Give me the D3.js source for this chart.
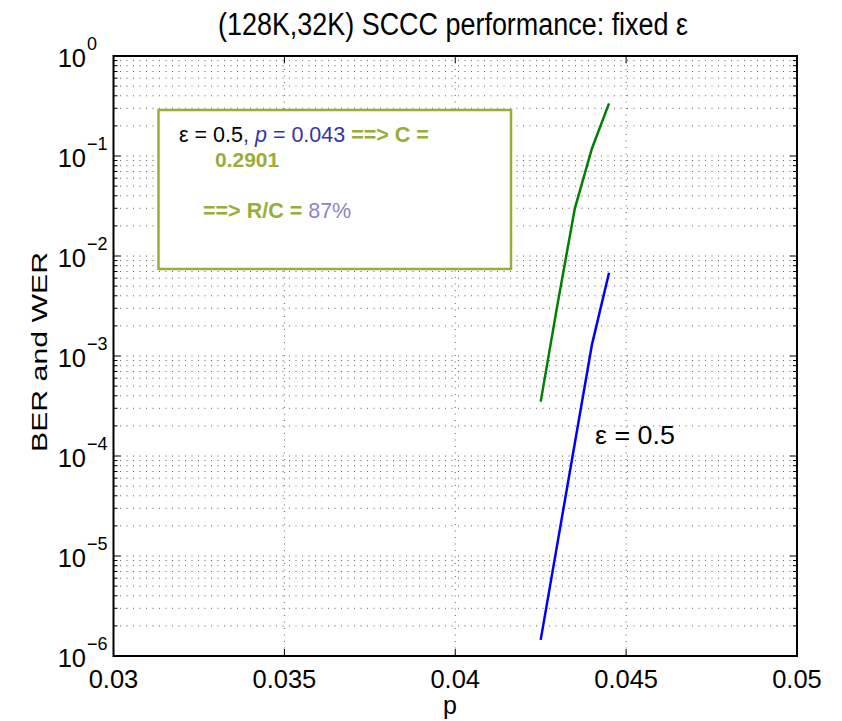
<!DOCTYPE html>
<html><head><meta charset="utf-8">
<script src="https://cdn.jsdelivr.net/npm/d3@7"></script>
<style>body{margin:0;background:#fff}svg{display:block;font-family:"Liberation Sans",Arial,sans-serif}</style>
</head><body>
<svg id="c" width="842" height="721"></svg>
<script>
const pValues = [0.0425, 0.043, 0.0435, 0.044, 0.0445];
const werValues = [3.5e-4, 3.4e-3, 0.030, 0.119, 0.336];
const berValues = [1.45e-6, 1.4e-5, 1.35e-4, 1.3e-3, 6.8e-3];
const xTicks = [0.03, 0.035, 0.04, 0.045, 0.05];
const xTickLabels = ["0.03", "0.035", "0.04", "0.045", "0.05"];
const yExponents = [0, -1, -2, -3, -4, -5, -6];

const svg = d3.select("#c");
const L = 113.5, R = 797, T = 56, B = 656;
const x = d3.scaleLinear().domain([0.03, 0.05]).range([L, R]);
const y = d3.scaleLog().domain([1e-6, 1]).range([B, T]);

// grid
const grid = svg.append("g").attr("stroke", "#333").attr("stroke-width", 0.8).attr("stroke-dasharray", "1,5.5");
const minor = [];
for (let e = -6; e < 0; e++) for (let m = 2; m <= 9; m++) minor.push(m * Math.pow(10, e));
const major = yExponents.map(e => Math.pow(10, e));
grid.selectAll(".hy").data(minor.concat(major.slice(1, -1))).join("line")
  .attr("x1", L).attr("x2", R).attr("y1", d => y(d)).attr("y2", d => y(d));
grid.selectAll(".vx").data(xTicks.slice(1, -1)).join("line")
  .attr("y1", T).attr("y2", B).attr("x1", d => x(d)).attr("x2", d => x(d));

// ticks (inside, all sides)
const tk = svg.append("g").attr("stroke", "#000").attr("stroke-width", 1);
xTicks.forEach(v => {
  tk.append("line").attr("x1", x(v)).attr("x2", x(v)).attr("y1", B).attr("y2", B - 7);
  tk.append("line").attr("x1", x(v)).attr("x2", x(v)).attr("y1", T).attr("y2", T + 7);
});
major.forEach(v => {
  tk.append("line").attr("x1", L).attr("x2", L + 7).attr("y1", y(v)).attr("y2", y(v));
  tk.append("line").attr("x1", R).attr("x2", R - 7).attr("y1", y(v)).attr("y2", y(v));
});
minor.forEach(v => {
  tk.append("line").attr("x1", L).attr("x2", L + 4).attr("y1", y(v)).attr("y2", y(v));
  tk.append("line").attr("x1", R).attr("x2", R - 4).attr("y1", y(v)).attr("y2", y(v));
});

// frame
svg.append("rect").attr("x", L).attr("y", T).attr("width", R - L).attr("height", B - T)
  .attr("fill", "none").attr("stroke", "#000").attr("stroke-width", 2);

// x tick labels
svg.selectAll(".xl").data(xTicks).join("text")
  .attr("x", d => x(d)).attr("y", B + 32).attr("text-anchor", "middle")
  .attr("font-size", 25.5).text((d, i) => xTickLabels[i]);

// y tick labels
yExponents.forEach(e => {
  svg.append("text").attr("x", 86).attr("y", y(Math.pow(10, e)) + 11)
    .attr("text-anchor", "end").attr("font-size", 25.5).text("10");
  svg.append("text").attr("x", 87).attr("y", y(Math.pow(10, e)) - 6)
    .attr("font-size", 18).text(e === 0 ? "0" : "\u2212" + (-e));
});

// axis labels & title
svg.append("text").attr("x", 450).attr("y", 714).attr("text-anchor", "middle").attr("font-size", 25).text("p");
svg.append("text").attr("transform", "translate(47,352) rotate(-90)").attr("text-anchor", "middle")
  .attr("font-size", 21.5).attr("textLength", 200).attr("lengthAdjust", "spacingAndGlyphs").text("BER and WER");
svg.append("text").attr("x", 453).attr("y", 35).attr("text-anchor", "middle").attr("font-size", 31)
  .attr("textLength", 470).attr("lengthAdjust", "spacingAndGlyphs")
  .text("(128K,32K) SCCC performance: fixed \u03B5");

// curves
const line = d3.line().x((d, i) => x(pValues[i])).y(d => y(d));
svg.append("path").datum(werValues).attr("d", line).attr("fill", "none").attr("stroke", "#008000").attr("stroke-width", 2.5);
svg.append("path").datum(berValues).attr("d", line).attr("fill", "none").attr("stroke", "#0000ff").attr("stroke-width", 2.5);

svg.append("text").attr("x", 595).attr("y", 444).attr("font-size", 25)
  .attr("textLength", 80).attr("lengthAdjust", "spacingAndGlyphs").text("\u03B5 = 0.5");

// annotation box
svg.append("rect").attr("x", 158.5).attr("y", 110).attr("width", 352.5).attr("height", 159)
  .attr("fill", "#fff").attr("stroke", "#9aad3a").attr("stroke-width", 2.5);
const olive = "#9aad3a";
const t1 = svg.append("text").attr("x", 179).attr("y", 142).attr("font-size", 21.5);
t1.append("tspan").attr("fill", "#000").text("\u03B5 = 0.5");
t1.append("tspan").attr("fill", "#3535a5").text(", ");
t1.append("tspan").attr("fill", "#3535a5").attr("font-style", "italic").text("p");
t1.append("tspan").attr("fill", "#3535a5").text(" = 0.043 ");
t1.append("tspan").attr("fill", olive).attr("font-weight", "bold").text("==> C =");
svg.append("text").attr("x", 215).attr("y", 167).attr("font-size", 21).attr("font-weight", "bold")
  .attr("fill", olive).text("0.2901");
const t3 = svg.append("text").attr("x", 203).attr("y", 218).attr("font-size", 21.5);
t3.append("tspan").attr("fill", olive).attr("font-weight", "bold").text("==> R/C = ");
t3.append("tspan").attr("fill", "#8c86c2").text("87%");
</script>
</body></html>
